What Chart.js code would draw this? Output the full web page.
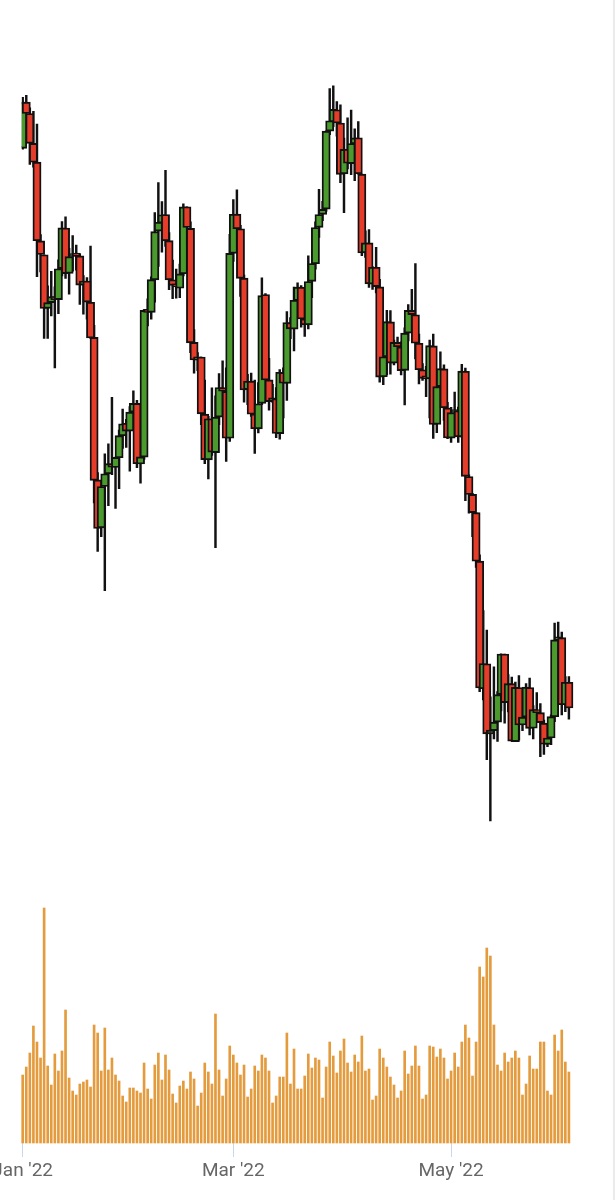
<!DOCTYPE html>
<html lang="en">
<head>
  <meta charset="UTF-8">
  <meta name="viewport" content="width=device-width, initial-scale=1.0">
  <title>BTC 2022 - candles</title>
  <script src="https://cdn.jsdelivr.net/npm/chart.js"></script>
  <style>
    html, body { margin: 0; padding: 0; background: #fff; }
    #wrap { position: relative; width: 615px; height: 1200px; overflow: hidden; }
    #chart { display: block; }
    /* faint edge on the right of the page */
    #edge { position: absolute; left: 613px; top: 0; width: 2px; height: 1200px; background: #ebebeb; }
  </style>
</head>
<body>
  <div id="wrap">
    <canvas id="chart" width="615" height="1200"></canvas>
    <div id="edge"></div>
  </div>

  <script>
    // daily candles, 1 Jan 2022 .. 3 Jun 2022
    const startDate = '2022-01-01';
    const dayCount = 154;

    const tickDates = ['2022-01-01', '2022-03-01', '2022-05-01'];
    const tickTexts = ["Jan '22", "Mar '22", "May '22"];

    const open = [
      46311,47680,47343,46458,45899,43566,43153,41561,41734,41910,41820,42742,43946,42599,43101,43173,43118,42250,42375,41744,40699,36471,35048,36276,36654,36950,36841,37128,37780,38151,37920,
      38481,38743,36944,37149,41501,41441,42406,43854,44096,44348,43571,42412,42237,42158,42586,44578,43937,40552,40022,40119,38423,37068,38285,37279,38333,39213,39098,37707,
      43194,44357,43925,42458,39149,39404,38429,37988,38742,41974,39440,38795,38884,37847,39664,39335,41140,40944,41794,42191,41246,41074,42364,42886,43964,44349,44505,46821,47100,47456,47062,
      45554,46285,45859,46445,46624,45544,43207,43505,42282,42782,42201,39534,40123,41160,39939,40552,40418,39721,40829,41501,41371,40525,39741,39478,39472,40448,38120,39241,39768,38605,
      37713,38472,38528,37749,39696,36573,36042,35502,34060,30273,31016,28937,29031,29285,30098,31304,29862,30425,28707,30311,29199,29432,30310,29101,29654,29564,29252,28622,28812,29443,31723,
      31792,29800,30467
    ];
    const high = [
      47827,47881,47510,47406,47031,43749,43153,42228,42663,42199,43001,44135,44278,43346,43724,43436,43179,42534,42478,43413,41060,36688,36433,37247,37545,38920,37148,37952,38576,38266,38647,
      39116,38834,37387,41528,41847,42500,44401,45293,44727,45661,43810,42992,42726,42876,44667,44578,44132,40929,40246,40119,39430,38359,39204,38968,39630,40005,39794,43760,
      44793,45077,44022,42548,39603,39640,39430,39363,42465,42004,40081,39308,39209,39742,39794,41465,41287,42195,42316,42241,41545,43124,42893,44131,45095,44735,46827,48087,48162,47700,47601,
      46616,47213,47444,46891,47106,45544,43862,43903,42800,43376,42424,40617,41500,41497,40617,40710,40570,40986,41672,42126,42893,40799,39921,39845,40617,40797,39397,40269,39887,38771,
      38627,39074,38629,39902,39789,36624,36074,35503,34245,32596,32013,30033,30924,30190,31308,31305,30694,30618,30471,30664,29588,30425,30590,29774,30157,29834,29346,28814,29498,32222,32249,
      31957,30633,30633
    ];
    const low = [
      46288,46856,45835,45752,42500,42645,40672,40673,41338,39796,41407,42528,42447,41982,42669,42692,41680,41392,41242,40672,35791,34349,34785,33184,35705,36629,35629,36211,37406,37437,36733,
      38225,36832,36375,37080,41038,41244,41748,42807,43232,43402,42114,41852,41867,41879,42525,43456,40249,39638,39713,38113,36950,36497,37201,34459,38111,38626,37018,37611,
      42952,43432,41914,38777,38703,38358,37260,37867,38707,38833,38540,38773,37728,37680,38310,38828,40662,40302,41602,41004,40729,40949,41877,42726,43664,44166,44437,46716,46950,46675,45290,
      44403,45696,45530,45353,45544,43122,43071,42183,42126,42021,39374,39294,39589,39609,39880,40103,39589,38696,40597,40935,40063,39322,39420,38941,38313,37702,37870,38941,38235,37697,
      37585,38157,37585,37732,35856,35482,34786,33878,30189,29944,28170,26350,28783,28713,29614,29251,29589,28720,28702,28750,29027,29275,28904,28786,29385,28261,28326,28554,28614,29300,31286,
      29501,29595,29375
    ];
    const close = [
      47686,47345,46458,45897,43569,43160,41558,41734,41912,41822,42736,43950,42592,43099,43177,43114,42250,42375,41745,40681,36458,35031,36276,36654,36955,36852,37138,37784,38138,37918,38483,
      38743,36952,37154,41501,41441,42413,43840,44118,44338,43565,42407,42244,42197,42586,44575,43961,40538,40030,40122,38431,37075,38286,37296,38332,39214,39105,37709,43193,
      44354,43925,42452,39138,39400,38420,37989,38731,41941,39437,38795,38904,37849,39666,39339,41143,40951,41801,42191,41247,41077,42358,42892,43960,44348,44500,46820,47128,47465,47062,45538,
      46281,45868,46453,46622,45555,43206,43503,42287,42782,42207,39521,40127,41166,39936,40553,40424,39716,40827,41503,41374,40527,39741,39486,39469,40458,38117,39241,39773,38609,37714,
      38469,38529,37750,39698,36575,36040,35501,34059,30297,31022,28936,29047,29283,30101,31305,29863,30425,28720,30315,29200,29432,30323,29098,29655,29562,29267,28627,28814,29445,31726,31792,
      29799,30467,29704
    ];
    // volume (relative units)
    const volume = [
      68,76,90,117,101,85,235,77,58,89,72,92,133,65,52,48,59,61,63,56,118,110,72,115,73,85,68,62,47,41,55,
      55,52,50,80,54,44,78,90,63,88,73,49,40,57,62,54,71,64,37,50,80,71,59,129,73,47,64,97,
      88,80,68,78,46,54,77,72,88,85,72,40,47,66,66,110,59,94,54,54,67,89,75,85,83,45,76,101,87,70,92,
      104,80,71,88,81,107,72,74,43,47,94,85,76,66,58,45,52,92,69,77,97,77,44,48,97,96,86,94,85,64,
      72,90,76,101,118,105,67,101,176,166,195,187,118,78,72,90,81,85,92,85,48,59,87,74,74,101,101,52,48,108,92,
      113,81,71
    ];

    const upColor = '#4a9a2d';
    const downColor = '#e63c2a';
    const volColor = '#e49b3d';

    // category labels: one per day
    const dates = [];
    const d0 = new Date(startDate + 'T00:00:00Z');
    for (let i = 0; i < dayCount; i++) {
      const d = new Date(d0.getTime() + i * 86400000);
      dates.push(d.toISOString().slice(0, 10));
    }

    const bodies = open.map((o, i) => [o, close[i]]);
    const wicks = low.map((l, i) => [l, high[i]]);
    const bodyColors = open.map((o, i) => close[i] >= o ? upColor : downColor);

    const ctx = document.getElementById('chart').getContext('2d');
    new Chart(ctx, {
      type: 'bar',
      data: {
        labels: dates,
        datasets: [
          {
            label: 'body',
            data: bodies,
            yAxisID: 'y',
            order: 0,
            grouped: false,
            barThickness: 8.2,
            minBarLength: 3,
            backgroundColor: bodyColors,
            borderColor: '#111',
            borderWidth: 1.9,
            borderSkipped: false,
            clip: { left: 1, right: 10, top: 10, bottom: 10 }
          },
          {
            label: 'wick',
            data: wicks,
            yAxisID: 'y',
            order: 1,
            grouped: false,
            barThickness: 1.8,
            backgroundColor: '#111',
            borderWidth: 0,
            clip: { left: 1, right: 10, top: 10, bottom: 10 }
          },
          {
            label: 'volume',
            data: volume,
            yAxisID: 'yv',
            order: 2,
            grouped: false,
            barThickness: 2,
            backgroundColor: volColor,
            borderWidth: 0,
            clip: false
          }
        ]
      },
      options: {
        responsive: false,
        animation: false,
        devicePixelRatio: 1,
        layout: { padding: { left: 22.7, right: 46.1, top: 0, bottom: 14.2 } },
        plugins: {
          legend: { display: false },
          tooltip: { enabled: false }
        },
        scales: {
          x: {
            type: 'category',
            offset: false,
            grid: {
              offset: false,
              drawOnChartArea: false,
              drawTicks: true,
              tickLength: 14,
              lineWidth: 1,
              color: (c) => tickDates.includes(dates[c.index]) ? '#ccd6eb' : 'rgba(0,0,0,0)'
            },
            border: { display: false },
            ticks: {
              autoSkip: false,
              maxRotation: 0,
              minRotation: 0,
              padding: 3,
              color: '#666666',
              font: { family: 'Roboto', size: 19 },
              callback: (v, i) => {
                const k = tickDates.indexOf(dates[i]);
                return k >= 0 ? tickTexts[k] : '';
              }
            },
            afterFit: (s) => { s.paddingLeft = 0; s.paddingRight = 0; }
          },
          y: { display: false, min: 16795, max: 50712 },
          yv: { display: false, min: 0, max: 1143 }
        }
      }
    });
  </script>
</body>
</html>
